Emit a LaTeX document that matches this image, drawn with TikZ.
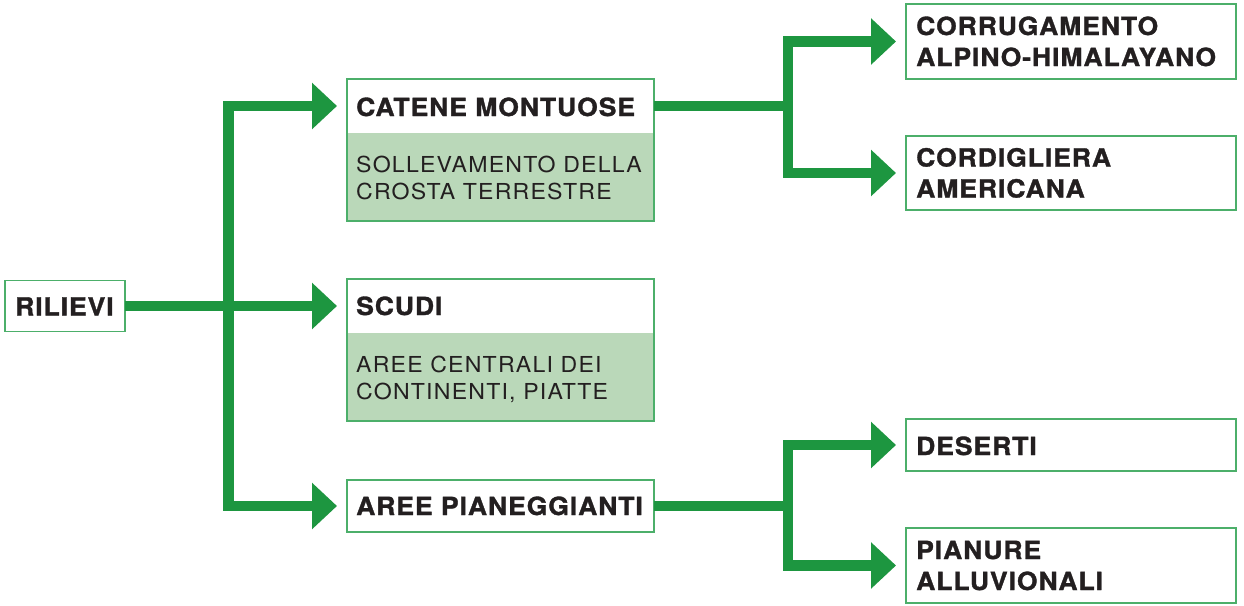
\documentclass[tikz,border=0pt]{standalone}
\usepackage{fontspec}
\setmainfont{TeX Gyre Heros}
\newfontfamily\titfont[FakeStretch=1.06,LetterSpace=3.8,BoldFeatures={FakeBold=1.3}]{TeX Gyre Heros}
\newfontfamily\descfont[FakeStretch=1.05,LetterSpace=5.5]{TeX Gyre Heros}
\usetikzlibrary{arrows.meta}
\definecolor{arrowgreen}{RGB}{29,150,64}
\definecolor{boxgreen}{RGB}{76,175,106}
\definecolor{fillgreen}{RGB}{186,216,185}
\definecolor{ink}{RGB}{35,31,32}
\begin{document}
\begin{tikzpicture}[x=1pt,y=-1pt,
  head/.style={fill=white, anchor=north west, inner sep=0pt, outer sep=0pt},
  body/.style={fill=fillgreen, anchor=north west, inner sep=0pt, outer sep=0pt, minimum width=307pt, minimum height=88pt},
  frame/.style={draw=boxgreen, line width=1.5pt},
  box/.style={draw=boxgreen, line width=1.5pt, fill=white, anchor=north west, inner sep=0pt, outer sep=0pt},
  tit/.style={anchor=base west, inner sep=0pt, text=ink, font=\titfont\bfseries\fontsize{25}{31}\selectfont, align=left},
  desc/.style={anchor=base west, inner sep=0pt, text=ink, font=\descfont\fontsize{22}{27}\selectfont, align=left},
  conn/.style={draw=arrowgreen, line width=10.5pt, line join=miter},
  arr/.style={conn, -{Triangle[length=25pt,width=45pt]}, shorten >=10pt}
]
\useasboundingbox (0,0) rectangle (1244,605);

% RILIEVI
\node[box, minimum width=120pt, minimum height=51pt] (rilievi) at (5,280.5) {};
\node[tit] (rilievit) at (15,315.5) {RILIEVI};

% CATENE MONTUOSE
\node[head, minimum width=307pt, minimum height=54pt] (catenehead) at (347,79) {};
\node[body] (catenebody) at (347,133) {};
\draw[frame] (catenehead.north west) rectangle (catenebody.south east);
\node[tit] (catenet) at (356,116) {CATENE MONTUOSE};
\node[desc] (catened) at (356,199) {SOLLEVAMENTO DELLA\\CROSTA TERRESTRE};

% SCUDI
\node[head, minimum width=307pt, minimum height=54pt] (scudihead) at (347,279) {};
\node[body] (scudibody) at (347,333) {};
\draw[frame] (scudihead.north west) rectangle (scudibody.south east);
\node[tit] (scudit) at (356,315) {SCUDI};
\node[desc] (scudid) at (356,399) {AREE CENTRALI DEI\\CONTINENTI, PIATTE};

% AREE PIANEGGIANTI
\node[box, minimum width=307pt, minimum height=52pt] (areehead) at (347,480) {};
\node[tit] (areet) at (356,515) {AREE PIANEGGIANTI};

% right boxes
\node[box, minimum width=330pt, minimum height=75pt] (corr) at (906,4) {};
\node[tit] (corrt) at (916,66) {CORRUGAMENTO\\ALPINO-HIMALAYANO};
\node[box, minimum width=330pt, minimum height=74pt] (cord) at (906,136) {};
\node[tit] (cordt) at (916,197.5) {CORDIGLIERA\\AMERICANA};
\node[box, minimum width=330pt, minimum height=52pt] (des) at (906,419) {};
\node[tit] (dest) at (916,455) {DESERTI};
\node[box, minimum width=330pt, minimum height=75pt] (pian) at (906,528) {};
\node[tit] (piant) at (916,590) {PIANURE\\ALLUVIONALI};

% connectors
\coordinate (trunk) at (228.5,306);
\coordinate (rj1) at (788,106);
\coordinate (rj2) at (788,506);
\draw[arr] (rilievi.east) -- (scudihead.west);
\draw[arr] (trunk) |- (catenehead.west);
\draw[arr] (trunk) |- (areehead.west);
\draw[conn] (catenehead.east) -- (rj1);
\draw[arr] (rj1) |- (corr.west);
\draw[arr] (rj1) |- (cord.west);
\draw[conn] (areehead.east) -- (rj2);
\draw[arr] (rj2) |- (des.west);
\draw[arr] (rj2) |- (pian.west);
\end{tikzpicture}
\end{document}
